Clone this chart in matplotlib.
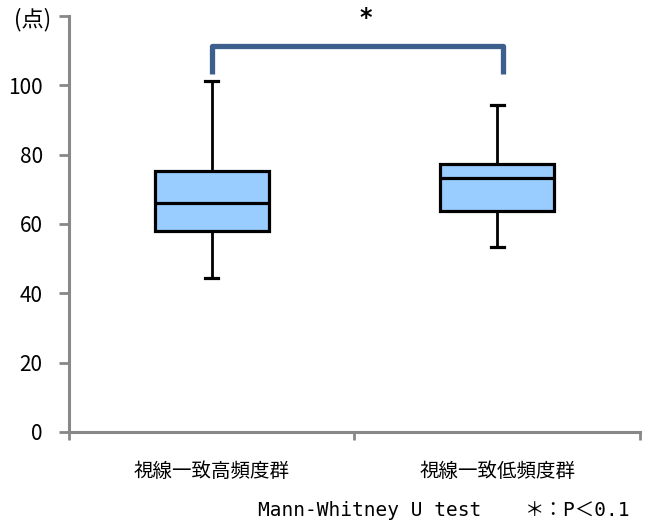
import matplotlib
matplotlib.use("Agg")
import matplotlib.pyplot as plt

plt.rcParams['font.family'] = ['Noto Sans CJK JP', 'DejaVu Sans']

# Group names and five-number summaries of the scores
groups = ['視線一致高頻度群', '視線一致低頻度群']
whisker_low = [44.5, 53.5]
q1 = [57.9, 63.7]
median = [66.0, 73.3]
q3 = [75.2, 77.3]
whisker_high = [101.3, 94.3]

y_ticks = [0, 20, 40, 60, 80, 100, 120]
y_tick_labels = ['0', '20', '40', '60', '80', '100', '']
y_unit = '(点)'

# Significance bracket between the two groups
bracket_top = 111.2
bracket_foot = 103.4

fig = plt.figure(figsize=(6.53, 5.24), dpi=100)
ax = fig.add_axes([0.1057, 0.1756, 0.8743, 0.7939])

stats = []
for i, name in enumerate(groups):
    stats.append(dict(label=name, whislo=whisker_low[i], q1=q1[i], med=median[i],
                      q3=q3[i], whishi=whisker_high[i], fliers=[]))

positions = [1, 2]
ax.bxp(stats, positions=positions, widths=0.40, patch_artist=True, showfliers=False,
       boxprops=dict(facecolor='#99CCFF', edgecolor='black', linewidth=2.3),
       medianprops=dict(color='black', linewidth=2.3),
       whiskerprops=dict(color='black', linewidth=2.0),
       capprops=dict(color='black', linewidth=2.3),
       capwidths=0.045)

ax.plot([1, 1, 2.02, 2.02], [bracket_foot, bracket_top, bracket_top, bracket_foot],
        color='#3C5F8E', linewidth=3.8, solid_joinstyle='round', solid_capstyle='butt',
        clip_on=False)
ax.text(1.54, 119.3, '*', ha='center', va='center', fontsize=17, fontweight='bold',
        family='DejaVu Sans')

ax.set_xlim(0.5, 2.5)
ax.set_ylim(0, 120)
ax.set_xticks([0.5, 1.5, 2.5])
ax.set_xticklabels([])
ax.set_xticks(positions, minor=True)
ax.set_xticklabels(groups, minor=True, fontsize=14)
ax.tick_params(axis='x', which='minor', length=0, pad=21)
ax.tick_params(axis='x', which='major', length=6, width=2, color='#888888', direction='out')
ax.set_yticks(y_ticks)
ax.set_yticklabels(y_tick_labels, fontsize=15)
ax.tick_params(axis='y', length=7, width=2, color='#888888', direction='out', pad=12)
fig.text(33 / 653, 1 - 20 / 524, y_unit, ha='center', va='center', fontsize=16)

for side in ['top', 'right']:
    ax.spines[side].set_visible(False)
for side in ['left', 'bottom']:
    ax.spines[side].set_color('#888888')
    ax.spines[side].set_linewidth(2.2)

fig.text(258 / 653, 1 - 511 / 524, 'Mann-Whitney U test', ha='left', va='center',
         fontsize=14, family=['DejaVu Sans Mono', 'Noto Sans CJK JP'])
fig.text(525 / 653, 1 - 511 / 524, '＊：P＜0.1', ha='left', va='center',
         fontsize=14, family=['DejaVu Sans Mono', 'Noto Sans CJK JP'])

fig.savefig('out.png', dpi=100)
